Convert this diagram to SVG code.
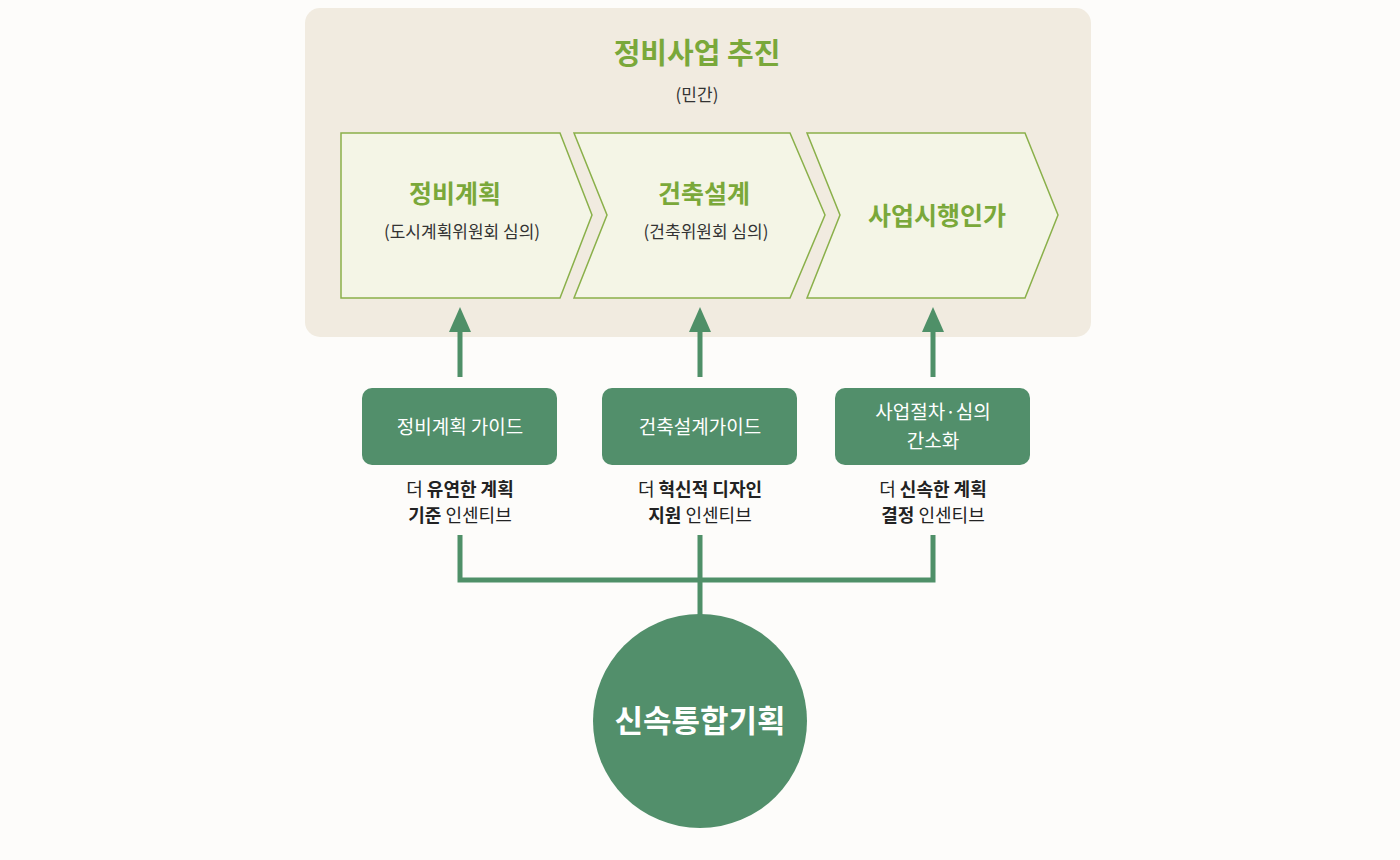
<svg xmlns="http://www.w3.org/2000/svg" width="1400" height="860" viewBox="0 0 1400 860">
<style>
text{font-family:"Noto Sans CJK KR","Noto Sans",sans-serif;text-anchor:middle}
.chev{fill:#f4f5e6;stroke:#8ab04a;stroke-width:1.5}
.ct{fill:#7aa83a;font-weight:bold;font-size:25px}
.cs{fill:#333;font-size:17px}
.box{fill:#528f6b}
.bt{fill:#fff;font-size:19px}
.d{fill:#222;font-size:18px}
.b{font-weight:bold}
.ln{stroke:#4f9068;stroke-width:5;fill:none}
</style>
<rect width="1400" height="860" fill="#fdfcfa"/>
<g id="panel">
<rect x="305" y="8" width="786" height="329" rx="15" fill="#f1ebe0"/>
<text x="697" y="64" fill="#7aa83a" font-size="29" font-weight="bold">정비사업 추진</text>
<text x="697" y="101" fill="#333" font-size="17">(민간)</text>
</g>
<g id="step1"><polygon class="chev" points="341,133 560,133 592,215 560,298 341,298"/>
<text class="ct" x="455" y="203">정비계획</text><text class="cs" x="462" y="238">(도시계획위원회 심의)</text></g>
<g id="step2"><polygon class="chev" points="574,133 790,133 825,215 790,298 574,298 607,215"/>
<text class="ct" x="704" y="203">건축설계</text><text class="cs" x="706" y="238">(건축위원회 심의)</text></g>
<g id="step3"><polygon class="chev" points="807,133 1025,133 1058,215 1025,298 807,298 840,215"/>
<text class="ct" x="937" y="225">사업시행인가</text></g>
<g id="connectors">
<path class="ln" d="M460,377V328M700,377V328M933,377V328"/>
<polygon fill="#4f9068" points="449,332 471,332 460,307"/>
<polygon fill="#4f9068" points="689,332 711,332 700,307"/>
<polygon fill="#4f9068" points="922,332 944,332 933,307"/>
<path class="ln" d="M460,535V580H933V535M700,535V616"/>
</g>
<g id="guide1"><rect class="box" x="362" y="388" width="195" height="77" rx="10"/><text class="bt" x="460" y="434">정비계획 가이드</text>
<text class="d" x="460" y="496">더 <tspan class="b">유연한 계획</tspan></text><text class="d" x="460" y="522"><tspan class="b">기준</tspan> 인센티브</text></g>
<g id="guide2"><rect class="box" x="602" y="388" width="195" height="77" rx="10"/><text class="bt" x="700" y="434">건축설계가이드</text>
<text class="d" x="700" y="496">더 <tspan class="b">혁신적 디자인</tspan></text><text class="d" x="700" y="522"><tspan class="b">지원</tspan> 인센티브</text></g>
<g id="guide3"><rect class="box" x="835" y="388" width="195" height="77" rx="10"/><text class="bt" x="933" y="419">사업절차·심의</text><text class="bt" x="933" y="448">간소화</text>
<text class="d" x="933" y="496">더 <tspan class="b">신속한 계획</tspan></text><text class="d" x="933" y="522"><tspan class="b">결정</tspan> 인센티브</text></g>
<g id="center"><circle cx="700" cy="721" r="107" fill="#528f6b"/>
<text x="700" y="732" fill="#fff" font-size="31" font-weight="bold">신속통합기획</text></g>
</svg>
